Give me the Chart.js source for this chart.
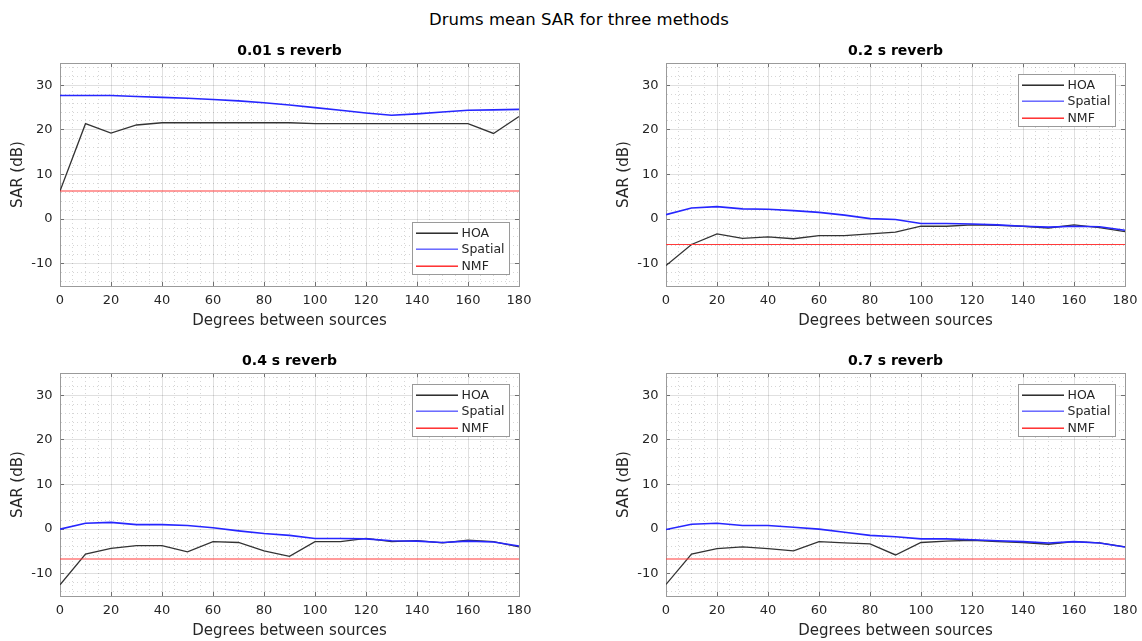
<!DOCTYPE html>
<html><head><meta charset="utf-8">
<script src="https://cdn.jsdelivr.net/npm/chart.js"></script>
<style>
html,body{margin:0;padding:0;background:#fff;width:1142px;height:641px;overflow:hidden;}
body{position:relative;}
#suptitle{position:absolute;left:8px;top:10px;width:1142px;text-align:center;font-family:"DejaVu Sans";font-size:16.5px;line-height:20px;color:#000;}
canvas{position:absolute;}
</style></head><body>
<div id="suptitle">Drums mean SAR for three methods</div>
<canvas id="c0" width="579" height="290" style="left:0px;top:40px"></canvas>
<canvas id="c1" width="579" height="290" style="left:606px;top:40px"></canvas>
<canvas id="c2" width="579" height="290" style="left:0px;top:350px"></canvas>
<canvas id="c3" width="579" height="290" style="left:606px;top:350px"></canvas>
<script>
// ---- data ----
const degrees = [0,10,20,30,40,50,60,70,80,90,100,110,120,130,140,150,160,170,180];
const panelTitles = ['0.01 s reverb','0.2 s reverb','0.4 s reverb','0.7 s reverb'];
const seriesNames = ['HOA','Spatial','NMF'];

const hoa001     = [6.3,21.4,19.3,21.1,21.6,21.6,21.6,21.6,21.6,21.6,21.4,21.4,21.4,21.4,21.4,21.4,21.4,19.2,23.0];
const spatial001 = [27.7,27.7,27.7,27.5,27.3,27.1,26.8,26.5,26.1,25.6,25.0,24.4,23.8,23.3,23.6,24.0,24.4,24.5,24.6];

const hoa02      = [-10.4,-5.7,-3.3,-4.3,-4.0,-4.4,-3.7,-3.7,-3.3,-2.9,-1.6,-1.6,-1.3,-1.4,-1.6,-2.0,-1.3,-1.9,-2.8];
const spatial02  = [1.0,2.5,2.8,2.3,2.2,1.9,1.5,0.9,0.1,-0.1,-1.0,-1.0,-1.1,-1.3,-1.6,-1.8,-1.6,-1.7,-2.5];

const hoa04      = [-12.5,-5.6,-4.3,-3.7,-3.7,-5.1,-2.8,-3.0,-4.9,-6.1,-2.8,-2.8,-2.1,-2.8,-2.6,-3.1,-2.5,-2.8,-4.0];
const spatial04  = [0.0,1.3,1.5,1.0,1.0,0.8,0.3,-0.4,-1.0,-1.4,-2.1,-2.1,-2.2,-2.6,-2.7,-3.0,-2.7,-2.9,-3.8];

const hoa07      = [-12.4,-5.6,-4.4,-4.0,-4.4,-4.9,-2.8,-3.1,-3.3,-5.8,-3.0,-2.7,-2.5,-2.8,-3.0,-3.4,-2.8,-3.1,-4.0];
const spatial07  = [-0.1,1.1,1.3,0.8,0.8,0.4,0.0,-0.7,-1.4,-1.7,-2.2,-2.2,-2.4,-2.6,-2.8,-3.1,-2.8,-3.1,-4.0];

const nmfLevels  = [6.3,-5.7,-6.7,-6.7];

const xTickLabels = [0,20,40,60,80,100,120,140,160,180];
const yTickLabels = [-10,0,10,20,30];
const xMinorStep = 5, yMinorStep = 2;
const xRange = [0,180], yRange = [-15,35];

// ---- styling helpers ----
const FONT = '"DejaVu Sans"';
const TXT = '#262626';
const MAJOR = 'rgba(0,0,0,0.12)';
const MINOR = 'rgba(0,0,0,0.16)';
const BOX = '#9a9a9a';
const COLORS = {hoa: '#333333', spatial: '#2626ff', nmf: '#ff3a3a'};
const LEGEND_COLORS = ['#1a1a1a', '#5c5cff', '#ff2020'];

function minorTicks(lo, hi, step){ const t=[]; for(let v=Math.ceil(lo/step)*step; v<=hi+1e-9; v+=step) t.push({value: Math.round(v*1000)/1000}); return t; }

function gridOpts(list, onArea){
  return {
    display: true,
    drawOnChartArea: onArea,
    drawTicks: true,
    tickLength: -4,
    color: (ctx) => (ctx.tick === undefined || list.includes(ctx.tick.value)) ? MAJOR : MINOR,
    lineWidth: 1,
    tickColor: (ctx) => (ctx.tick !== undefined && list.includes(ctx.tick.value)) ? '#707070' : 'rgba(0,0,0,0)',
    tickWidth: 1
  };
}
function borderOpts(list){
  return { display: true, color: BOX, width: 1,
    dash: (ctx) => (ctx.tick !== undefined && !list.includes(ctx.tick.value)) ? [1,3] : [] };
}

const boxLegend = {
  id: 'boxLegend',
  afterDatasetsDraw(chart, args, opts){
    const {ctx, chartArea: a} = chart;
    const w = 97, h = 52;
    const x = Math.round(a.right - 10 - w);
    const y = Math.round(opts.corner === 'br' ? a.bottom - 12 - h : a.top + 11);
    ctx.save();
    ctx.fillStyle = '#fff';
    ctx.fillRect(x, y, w, h);
    ctx.strokeStyle = BOX; ctx.lineWidth = 1;
    ctx.strokeRect(x + 0.5, y + 0.5, w, h);
    ctx.font = '12.5px ' + FONT;
    ctx.textBaseline = 'middle';
    ctx.textAlign = 'left';
    chart.data.datasets.forEach((ds, i) => {
      const cy = Math.round(y + 10.5 + i * 16.7);
      ctx.fillStyle = LEGEND_COLORS[i];
      ctx.fillRect(x + 4, cy - 0.5, 42, 1.4);
      ctx.fillStyle = TXT;
      ctx.fillText(ds.label, x + 49.5, cy + 0.5);
    });
    ctx.restore();
  }
};

const panels = [
  {hoa: hoa001, spatial: spatial001},
  {hoa: hoa02,  spatial: spatial02},
  {hoa: hoa04,  spatial: spatial04},
  {hoa: hoa07,  spatial: spatial07}
];

panels.forEach((p, k) => {
  const nmf = nmfLevels[k];
  const datasets = [
    {label: seriesNames[0], data: degrees.map((d,i)=>({x:d, y:p.hoa[i]})), borderColor: COLORS.hoa, borderWidth:1.3, order:3},
    {label: seriesNames[1], data: degrees.map((d,i)=>({x:d, y:p.spatial[i]})), borderColor: COLORS.spatial, borderWidth:1.6, order:2},
    {label: seriesNames[2], data: [{x:degrees[0], y:nmf},{x:degrees[degrees.length-1], y:nmf}], borderColor: COLORS.nmf, borderWidth:1.1, order:1}
  ];
  datasets.forEach(d => { d.pointRadius = 0; d.tension = 0; d.fill = false; });
  new Chart(document.getElementById('c' + k), {
    type: 'line',
    data: {datasets},
    plugins: [boxLegend],
    options: {
      responsive: false,
      animation: false,
      devicePixelRatio: 1,
      layout: {padding: 0},
      plugins: {
        legend: {display: false},
        tooltip: {enabled: false},
        title: {display: true, text: panelTitles[k], color: '#000',
                font: {family: FONT, size: 14, weight: 'bold', lineHeight: 1},
                padding: {top: 4, bottom: 5}},
        boxLegend: {corner: k === 0 ? 'br' : 'tr'}
      },
      scales: {
        x: {
          type: 'linear', position: 'bottom', min: xRange[0], max: xRange[1],
          afterBuildTicks: (s) => { s.ticks = minorTicks(xRange[0], xRange[1], xMinorStep); },
          afterFit: (s) => { s.height = 44; },
          ticks: {autoSkip: false, maxRotation: 0, padding: 11, color: TXT,
                  font: {family: FONT, size: 13},
                  callback: (v) => xTickLabels.includes(v) ? String(v) : ''},
          grid: gridOpts(xTickLabels, true),
          border: borderOpts(xTickLabels),
          title: {display: true, text: 'Degrees between sources', color: TXT,
                  font: {family: FONT, size: 15, lineHeight: 1.2}, padding: {top: 0, bottom: 0}}
        },
        x2: {
          type: 'linear', position: 'top', min: xRange[0], max: xRange[1],
          afterBuildTicks: (s) => { s.ticks = minorTicks(xRange[0], xRange[1], xMinorStep); },
          afterFit: (s) => { s.height = 0; },
          ticks: {display: false},
          grid: gridOpts(xTickLabels, false),
          border: {display: true, color: BOX, width: 1}
        },
        y: {
          type: 'linear', position: 'left', min: yRange[0], max: yRange[1],
          afterBuildTicks: (s) => { s.ticks = minorTicks(yRange[0], yRange[1], yMinorStep); },
          afterFit: (s) => { s.width = 60; },
          ticks: {autoSkip: false, padding: 11.5, color: TXT,
                  font: {family: FONT, size: 13},
                  callback: (v) => yTickLabels.includes(v) ? String(v) : ''},
          grid: gridOpts(yTickLabels, true),
          border: borderOpts(yTickLabels),
          title: {display: true, text: 'SAR (dB)', color: TXT,
                  font: {family: FONT, size: 15, lineHeight: 1.2}, padding: {top: 9.5, bottom: 0}}
        },
        y2: {
          type: 'linear', position: 'right', min: yRange[0], max: yRange[1],
          afterBuildTicks: (s) => { s.ticks = minorTicks(yRange[0], yRange[1], yMinorStep); },
          afterFit: (s) => { s.width = 60; },
          ticks: {display: false},
          grid: gridOpts(yTickLabels, false),
          border: {display: true, color: BOX, width: 1}
        }
      }
    }
  });
});
</script>
</body></html>
